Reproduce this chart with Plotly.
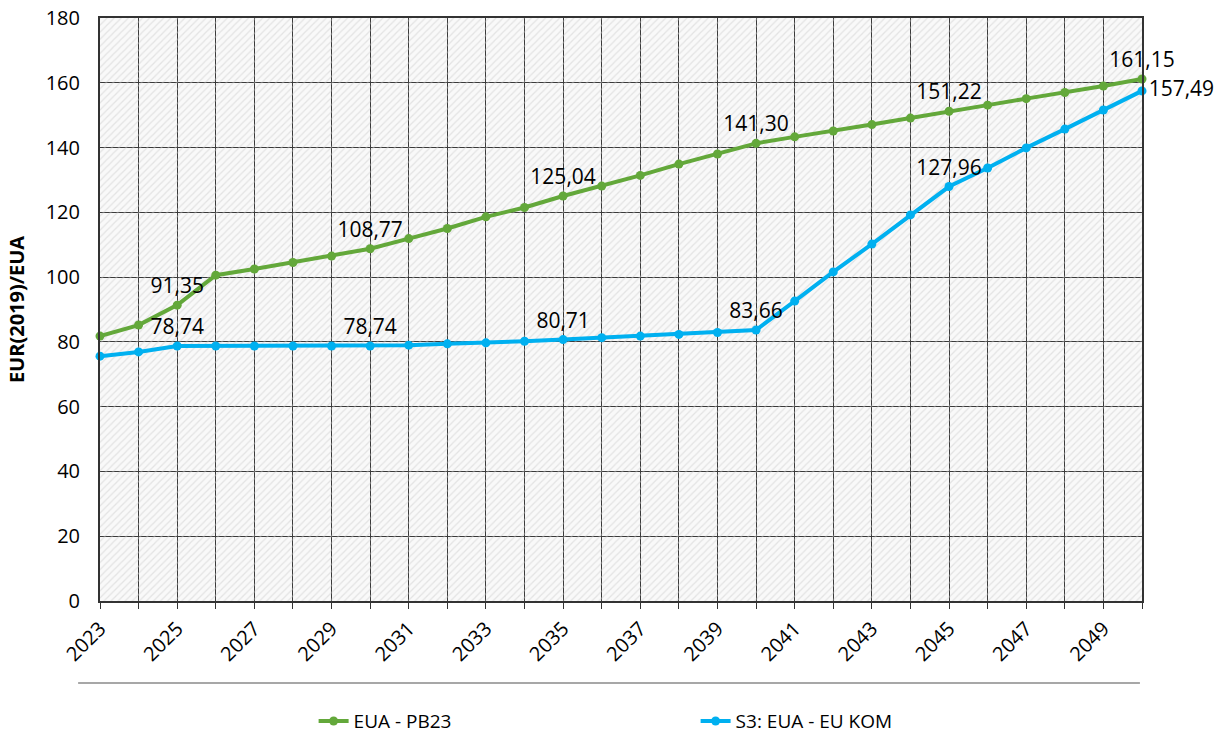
import plotly.graph_objects as go

years = list(range(2023, 2051))
eua_pb23 = [81.8, 85.2, 91.35, 100.6, 102.5, 104.5, 106.5, 108.77, 111.9, 115.0,
            118.6, 121.5, 125.04, 128.1, 131.4, 134.9, 138.0, 141.30, 143.3, 145.1,
            147.1, 149.1, 151.22, 153.1, 155.1, 157.0, 159.0, 161.15]
s3_eu_kom = [75.6, 76.9, 78.74, 78.74, 78.74, 78.74, 78.74, 78.74, 79.0, 79.4,
             79.7, 80.2, 80.71, 81.3, 81.8, 82.3, 82.9, 83.66, 92.6, 101.6,
             110.2, 119.2, 127.96, 133.7, 139.9, 145.7, 151.6, 157.49]
label_years = [2025, 2030, 2035, 2040, 2045, 2050]
y_min, y_max = 0, 180

GREEN = "#63a83a"
BLUE = "#00b0f0"
FONT = "Open Sans"


def fmt(v):
    return f"{v:.2f}".replace(".", ",")


def labels(vals):
    return [fmt(v) if y in label_years else "" for y, v in zip(years, vals)]


fig = go.Figure()

# hatched plot background
fig.add_trace(go.Scatter(
    x=[years[0], years[-1], years[-1], years[0], years[0]],
    y=[y_min, y_min, y_max, y_max, y_min],
    mode="none", fill="toself", fillcolor="rgba(0,0,0,0)",
    fillpattern=dict(shape="/", fgcolor="#cdcdcd", bgcolor="rgba(0,0,0,0)",
                     size=5, solidity=0.25, fillmode="overlay"),
    hoverinfo="skip", showlegend=False,
))

fig.add_trace(go.Scatter(
    x=years, y=eua_pb23, name="EUA - PB23", mode="lines+markers+text",
    line=dict(color=GREEN, width=4), marker=dict(color=GREEN, size=9),
    text=labels(eua_pb23), textposition="top center",
    textfont=dict(family=FONT, size=21, color="#000"),
    cliponaxis=False,
))

blue_pos = ["middle right" if y == years[-1] else "top center" for y in years]
fig.add_trace(go.Scatter(
    x=years, y=s3_eu_kom, name="S3: EUA - EU KOM", mode="lines+markers+text",
    line=dict(color=BLUE, width=4), marker=dict(color=BLUE, size=9),
    text=labels(s3_eu_kom), textposition=blue_pos,
    textfont=dict(family=FONT, size=21, color="#000"),
    cliponaxis=False,
))

fig.update_layout(
    width=1218, height=737,
    margin=dict(l=100, r=76, t=18, b=136, autoexpand=False),
    paper_bgcolor="white", plot_bgcolor="#f9f9f9",
    font=dict(family=FONT, size=20, color="#000"),
    legend=dict(orientation="h", x=0.205, xanchor="left", y=-0.206, yanchor="middle",
                font=dict(family=FONT, size=19), entrywidth=337, entrywidthmode="pixels",
                itemwidth=30, bgcolor="rgba(0,0,0,0)"),
    shapes=[dict(type="line", xref="paper", yref="paper", x0=-0.021, x1=0.998,
                 y0=-0.1407, y1=-0.1407, line=dict(color="#8a8a8a", width=1.5))],
)

fig.update_xaxes(
    range=[years[0], years[-1]], tick0=years[0], dtick=2, tickangle=-45,
    showgrid=True, gridcolor="#3a3a3a", gridwidth=1,
    minor=dict(dtick=1, showgrid=True, gridcolor="#3a3a3a", ticks="outside",
               ticklen=6, tickcolor="#333"),
    ticks="outside", ticklen=6, tickcolor="#333",
    showline=True, linecolor="#333", linewidth=2, mirror=True,
    zeroline=False, tickfont=dict(size=20), automargin=False,
)
fig.update_yaxes(
    range=[y_min, y_max], dtick=20, showgrid=True, gridcolor="#3a3a3a", gridwidth=1,
    showline=True, linecolor="#333", linewidth=2, mirror=True, zeroline=False,
    ticks="", tickfont=dict(size=20), ticklabelstandoff=14, automargin=False,
    title=dict(text="<b>EUR(2019)/EUA</b>", font=dict(size=20), standoff=16),
)

page_fix = (
    "document.documentElement.style.margin='0';document.body.style.margin='0';"
    "document.body.style.overflow='hidden';"
)

fig.write_html("out.html", config={"displayModeBar": False}, post_script=page_fix)
